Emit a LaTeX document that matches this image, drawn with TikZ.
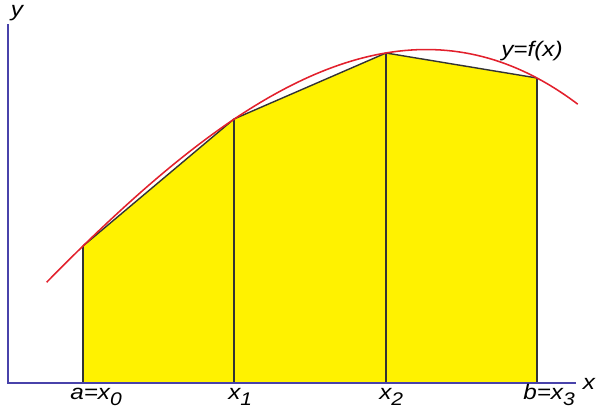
\documentclass[tikz,border=0pt]{standalone}
\usepackage{fontspec}
\setmainfont{Liberation Sans}
\newfontfamily\labfont[FakeStretch=1.15]{Liberation Sans}
\usetikzlibrary{positioning}

\definecolor{axisblue}{RGB}{72,66,170}
\definecolor{curvered}{RGB}{226,32,44}
\newcommand{\lowidx}[1]{\raisebox{-0.6ex}{\fontsize{13}{14}\selectfont #1}}

\begin{document}
\begin{tikzpicture}[
    x=0.025cm, y=-0.025cm,
    font=\labfont\fontsize{15}{17}\selectfont\itshape,
    axis/.style   = {draw=axisblue, line width=1.3pt},
    ordin/.style  = {draw=black!80, line width=1pt},
    curve/.style  = {draw=curvered, line width=1.1pt},
    lab/.style    = {inner sep=0pt}
]
\useasboundingbox (0,0) rectangle (597,408);

% ---------------- nodes on the x axis and curve ----------------
\coordinate (b0) at (83,383);
\coordinate (b1) at (234,383);
\coordinate (b2) at (386,383);
\coordinate (b3) at (537,383);
\coordinate (p0) at (83,246);
\coordinate (p1) at (234,119);
\coordinate (p2) at (386,53);
\coordinate (p3) at (537,78);

% ---------------- trapezoids ----------------
\fill[yellow] (b0) -- (p0) -- (p1) -- (p2) -- (p3) -- (b3) -- cycle;
\draw[ordin] (p0) -- (p1) -- (p2) -- (p3);
\draw[ordin] (b0) -- (p0);
\draw[ordin] (b1) -- (p1);
\draw[ordin] (b2) -- (p2);
\draw[ordin] (b3) -- (p3);

% ---------------- axes ----------------
\coordinate (orig) at (8,383);
\coordinate (xend) at (576,383);
\coordinate (yend) at (8,24);
\draw[axis] (yend) -- (orig) -- (xend);
\node[lab] (xlab) at (589,384) {x};
\node[lab] (ylab) at (17,13) {y};

% ---------------- curve y=f(x) (cubic through the four nodes) ----------------
\draw[curve] plot[domain=-0.24:3.27, samples=90, variable=\u]
    ({83+151.33*\u}, {246-147.5*\u+15.5*\u*\u+5*\u*\u*\u});
\node[lab] (flab) at (532,51) {y=f(x)};

% ---------------- tick labels ----------------
\node[lab,anchor=base west] (l0) at (70,399) {a=x\lowidx{0}};
\node[lab,anchor=base west] (l1) at (228,399) {x\lowidx{1}};
\node[lab,anchor=base west] (l2) at (379,399) {x\lowidx{2}};
\node[lab,anchor=base west] (l3) at (523,399) {b=x\lowidx{3}};

\end{tikzpicture}
\end{document}
